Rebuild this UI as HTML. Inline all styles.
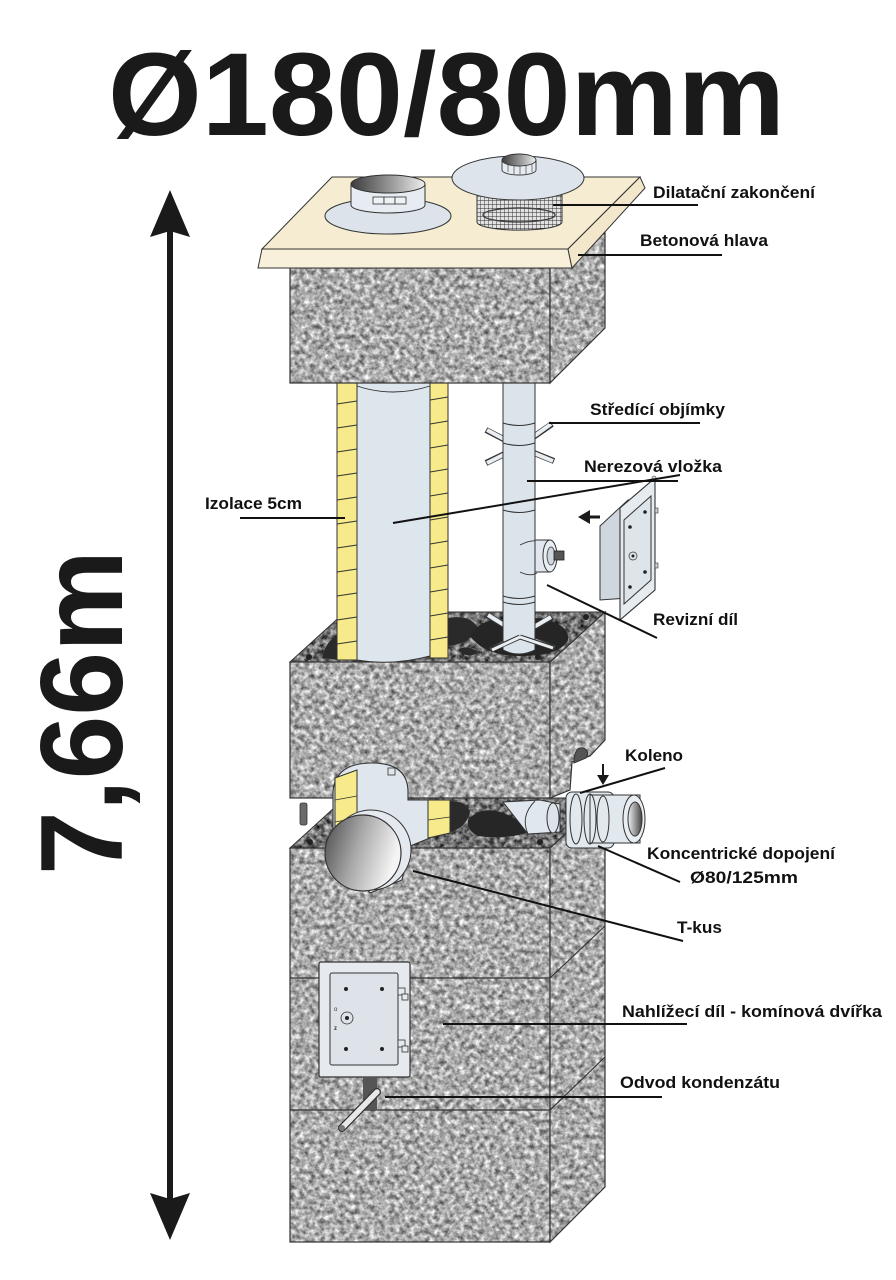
<!DOCTYPE html>
<html><head><meta charset="utf-8">
<style>html,body{margin:0;padding:0;background:#fff}svg{display:block}</style>
</head>
<body>
<svg width="896" height="1280" viewBox="0 0 896 1280" xmlns="http://www.w3.org/2000/svg">
<defs>
  <filter id="tex" filterUnits="userSpaceOnUse" x="0" y="0" width="896" height="1280" color-interpolation-filters="sRGB">
    <feTurbulence type="fractalNoise" baseFrequency="0.2" numOctaves="3" seed="7" result="n"/>
    <feColorMatrix in="n" type="matrix" values="1.0 0 0 0 0.17  1.0 0 0 0 0.17  1.0 0 0 0 0.17  0 0 0 0 1"/>
    <feComposite in2="SourceAlpha" operator="in"/>
  </filter>
  <filter id="texDark" filterUnits="userSpaceOnUse" x="0" y="0" width="896" height="1280" color-interpolation-filters="sRGB">
    <feTurbulence type="fractalNoise" baseFrequency="0.2" numOctaves="3" seed="11" result="n"/>
    <feColorMatrix in="n" type="matrix" values="1.1 0 0 0 -0.1  1.1 0 0 0 -0.1  1.1 0 0 0 -0.1  0 0 0 0 1"/>
    <feComposite in2="SourceAlpha" operator="in"/>
  </filter>
  <linearGradient id="gCap" x1="0" y1="0" x2="1" y2="0">
    <stop offset="0" stop-color="#3c3c3c"/><stop offset="0.55" stop-color="#9a9a9a"/><stop offset="1" stop-color="#efefef"/>
  </linearGradient>
  <linearGradient id="gDisc" x1="0" y1="0" x2="1" y2="0.3">
    <stop offset="0" stop-color="#4a4a4a"/><stop offset="0.5" stop-color="#a8a8a8"/><stop offset="1" stop-color="#f4f4f4"/>
  </linearGradient>
  <linearGradient id="gHole" x1="0" y1="0" x2="1" y2="0">
    <stop offset="0" stop-color="#f0f0f0"/><stop offset="1" stop-color="#444"/>
  </linearGradient>
  <pattern id="mesh" width="4" height="4" patternUnits="userSpaceOnUse">
    <rect width="4" height="4" fill="#e2e2e2"/>
    <path d="M0 0H4M0 0V4" stroke="#2a2a2a" stroke-width="0.9"/>
  </pattern>
</defs>
<rect width="896" height="1280" fill="#fff"/>

<!-- Title -->
<text x="108" y="135" font-family="Liberation Sans, sans-serif" font-weight="bold" font-size="118" textLength="677" lengthAdjust="spacingAndGlyphs" fill="#1a1a1a">Ø180/80mm</text>

<!-- Vertical dimension -->
<text transform="translate(122,875) rotate(-90)" font-family="Liberation Sans, sans-serif" font-weight="bold" font-size="117" textLength="325" lengthAdjust="spacingAndGlyphs" fill="#1a1a1a">7,66m</text>
<line x1="170" y1="228" x2="170" y2="1202" stroke="#1a1a1a" stroke-width="6"/>
<path d="M170 190 L190 237 L170 231 L150 237 Z" fill="#1a1a1a"/>
<path d="M170 1240 L190 1193 L170 1199 L150 1193 Z" fill="#1a1a1a"/>

<!-- ===== Lower block ===== -->
<g>
  <polygon points="290,848 345,798 605,798 550,848" fill="#000" filter="url(#texDark)"/>
  <polygon points="290,848 345,798 605,798 550,848" fill="none" stroke="#333" stroke-width="1"/>
  <rect x="290" y="848" width="260" height="394" fill="#000" filter="url(#tex)"/>
  <rect x="290" y="848" width="260" height="394" fill="none" stroke="#333" stroke-width="1.2"/>
  <polygon points="550,848 605,798 605,1187 550,1242" fill="#000" filter="url(#tex)"/>
  <polygon points="550,848 605,798 605,1187 550,1242" fill="none" stroke="#333" stroke-width="1.2"/>
  <polyline points="290,978 550,978 605,926" fill="none" stroke="#333" stroke-width="1.2"/>
  <polyline points="290,1110 550,1110 605,1057" fill="none" stroke="#333" stroke-width="1.2"/>
  <circle cx="310" cy="842" r="3" fill="#222"/>
  <circle cx="540" cy="842" r="3" fill="#222"/>
</g>

<!-- ===== Middle block ===== -->
<g>
  <polygon points="290,662 345,612 605,612 550,662" fill="#000" filter="url(#texDark)"/>
  <polygon points="290,662 345,612 605,612 550,662" fill="none" stroke="#333" stroke-width="1"/>
  <rect x="290" y="662" width="260" height="136" fill="#000" filter="url(#tex)"/>
  <rect x="290" y="662" width="260" height="136" fill="none" stroke="#333" stroke-width="1.2"/>
  <polygon points="550,662 605,612 605,740 590,756 572,762 570,790 550,798" fill="#000" filter="url(#tex)"/>
  <polygon points="550,662 605,612 605,740 590,756 572,762 570,790 550,798" fill="none" stroke="#333" stroke-width="1.2"/>
  <path d="M574,763 Q574,746 584,748 Q590,752 586,758 Z" fill="#555" stroke="#333" stroke-width="1"/>
  <path d="M322,658 Q326,640 338,636 L340,660 Z" fill="#2a2a2a"/>
  <path d="M448,618 Q470,614 478,628 Q470,644 448,646 Z" fill="#2a2a2a"/>
  <path d="M470,636 Q480,618 505,620 L540,618 Q570,624 568,640 Q560,656 520,656 Q485,656 470,636 Z" fill="#252525"/>
  <path d="M458,650 Q466,644 478,652 Q468,660 458,650 Z" fill="#2a2a2a"/>
  <circle cx="309" cy="657" r="3" fill="#222"/>
  <circle cx="538" cy="657" r="3" fill="#222"/>
  <circle cx="586" cy="617" r="3" fill="#222"/>
  <circle cx="357" cy="617" r="3" fill="#222"/>
</g>

<!-- ===== Pipes between blocks ===== -->
<g stroke-linecap="butt">
  <g stroke="#333" stroke-width="6">
    <line x1="519" y1="447" x2="486" y2="430"/><line x1="519" y1="447" x2="552" y2="424"/>
    <line x1="519" y1="447" x2="486" y2="463"/><line x1="519" y1="447" x2="554" y2="461"/>
    <line x1="520" y1="635" x2="487" y2="615"/><line x1="520" y1="635" x2="552" y2="617"/>
    <line x1="520" y1="635" x2="490" y2="650"/><line x1="520" y1="635" x2="555" y2="648"/>
  </g>
  <g stroke="#e9eef2" stroke-width="4">
    <line x1="519" y1="447" x2="487" y2="430"/><line x1="519" y1="447" x2="551" y2="424"/>
    <line x1="519" y1="447" x2="487" y2="463"/><line x1="519" y1="447" x2="553" y2="461"/>
    <line x1="520" y1="635" x2="488" y2="615"/><line x1="520" y1="635" x2="551" y2="617"/>
    <line x1="520" y1="635" x2="491" y2="650"/><line x1="520" y1="635" x2="554" y2="648"/>
  </g>
</g>
<path d="M503,383 L503,650 Q519,658 535,650 L535,383 Z" fill="#dbe3eb" stroke="#333" stroke-width="1"/>
<path d="M503,423 Q519,428 535,423 M503,443 Q519,448 535,443 M503,510 Q519,515 535,510 M503,596 Q519,601 535,596 M503,602 Q519,607 535,602" fill="none" stroke="#333" stroke-width="1"/>
<g stroke="#333" stroke-width="5"><line x1="520" y1="637" x2="491" y2="650"/><line x1="520" y1="637" x2="554" y2="648"/></g>
<g stroke="#e9eef2" stroke-width="3"><line x1="520" y1="637" x2="492" y2="650"/><line x1="520" y1="637" x2="553" y2="648"/></g>
<path d="M520,545 Q530,540 537,541 M520,572 Q530,577 537,573" fill="none" stroke="#333" stroke-width="0.9"/>
<path d="M535,540 L550,540 L550,572 L535,572 Z" fill="#e1e7ed" stroke="#333" stroke-width="1"/>
<ellipse cx="550" cy="556" rx="7" ry="16" fill="#e8edf1" stroke="#333" stroke-width="1"/>
<ellipse cx="551" cy="556" rx="4" ry="9" fill="#cfd6dd" stroke="#333" stroke-width="0.8"/>
<rect x="554" y="551" width="10" height="9" fill="#555" stroke="#222" stroke-width="0.8"/>

<rect x="337" y="383" width="20" height="277" fill="#f6ea8a" stroke="#333" stroke-width="1"/>
<rect x="430" y="383" width="18" height="275" fill="#f6ea8a" stroke="#333" stroke-width="1"/>
<path d="M357,383 L357,660 Q393,666 430,656 L430,383 Z" fill="#dde5ed" stroke="#333" stroke-width="1"/>
<path d="M357,386 Q393,398 430,386" fill="none" stroke="#333" stroke-width="0.9"/>
<g stroke="#333" stroke-width="0.9">
  <line x1="337" y1="404" x2="357" y2="401"/><line x1="337" y1="428" x2="357" y2="425"/>
  <line x1="337" y1="452" x2="357" y2="449"/><line x1="337" y1="476" x2="357" y2="473"/>
  <line x1="337" y1="500" x2="357" y2="497"/><line x1="337" y1="524" x2="357" y2="521"/>
  <line x1="337" y1="548" x2="357" y2="545"/><line x1="337" y1="572" x2="357" y2="569"/>
  <line x1="337" y1="596" x2="357" y2="593"/><line x1="337" y1="620" x2="357" y2="617"/>
  <line x1="337" y1="644" x2="357" y2="641"/>
  <line x1="430" y1="400" x2="448" y2="397"/><line x1="430" y1="424" x2="448" y2="421"/>
  <line x1="430" y1="448" x2="448" y2="445"/><line x1="430" y1="472" x2="448" y2="469"/>
  <line x1="430" y1="496" x2="448" y2="493"/><line x1="430" y1="520" x2="448" y2="517"/>
  <line x1="430" y1="544" x2="448" y2="541"/><line x1="430" y1="568" x2="448" y2="565"/>
  <line x1="430" y1="592" x2="448" y2="589"/><line x1="430" y1="616" x2="448" y2="613"/>
  <line x1="430" y1="640" x2="448" y2="637"/>
</g>

<!-- ===== Gap content ===== -->
<path d="M333,812 Q336,800 342,798 L340,828 Z" fill="#2a2a2a"/>
<path d="M450,802 Q466,800 470,812 Q466,828 450,832 Z" fill="#2a2a2a"/>
<path d="M468,820 Q480,806 500,812 Q520,818 530,832 Q505,840 478,836 Q466,830 468,820 Z" fill="#262626"/>
<rect x="300" y="803" width="7" height="22" rx="2" fill="#6a6a6a" stroke="#333" stroke-width="0.8"/>
<path d="M333,848 L333,792 Q335,763 372,763 Q408,763 408,792 L408,800 L430,800 L430,838 L410,846 L402,880 L370,893 Z" fill="#dfe6ee" stroke="#333" stroke-width="1.1"/>
<polygon points="335,778 357,770 357,828 335,842" fill="#f6ea8a" stroke="#333" stroke-width="1"/>
<line x1="335" y1="800" x2="357" y2="796" stroke="#333" stroke-width="0.8"/>
<line x1="335" y1="822" x2="357" y2="818" stroke="#333" stroke-width="0.8"/>
<polygon points="428,800 450,800 450,833 428,838" fill="#f6ea8a" stroke="#333" stroke-width="1"/>
<line x1="428" y1="820" x2="450" y2="817" stroke="#333" stroke-width="0.8"/>
<rect x="388" y="768" width="7" height="7" fill="#dfe6ee" stroke="#333" stroke-width="0.8"/>
<circle cx="371" cy="850" r="40" fill="#e3e9ef" stroke="#333" stroke-width="1"/>
<circle cx="363" cy="853" r="38" fill="url(#gDisc)" stroke="#333" stroke-width="1.2"/>
<path d="M503,802 L540,800 L560,804 L560,832 L528,834 Z" fill="#e0e7ee" stroke="#333" stroke-width="1"/>
<path d="M528,834 Q520,816 535,801" fill="none" stroke="#333" stroke-width="0.9"/>
<ellipse cx="553" cy="818" rx="6" ry="15" fill="#dce3ea" stroke="#333" stroke-width="1"/>
<rect x="566" y="792" width="48" height="56" rx="6" fill="#e1e8ee" stroke="#333" stroke-width="1"/>
<rect x="590" y="795" width="50" height="48" fill="#e1e8ee" stroke="#333" stroke-width="1"/>
<ellipse cx="576" cy="819" rx="6" ry="25" fill="none" stroke="#333" stroke-width="1"/>
<ellipse cx="590" cy="819" rx="6" ry="25" fill="none" stroke="#333" stroke-width="1"/>
<ellipse cx="603" cy="819" rx="6" ry="23" fill="none" stroke="#333" stroke-width="1"/>
<ellipse cx="634" cy="819" rx="11" ry="24" fill="#e8edf2" stroke="#333" stroke-width="1"/>
<ellipse cx="635" cy="819" rx="7" ry="17" fill="url(#gHole)" stroke="#333" stroke-width="1"/>
<line x1="603" y1="764" x2="603" y2="776" stroke="#1a1a1a" stroke-width="2"/>
<polygon points="597,775 609,775 603,785" fill="#1a1a1a"/>

<!-- ===== Door ===== -->
<rect x="319" y="962" width="91" height="115" rx="2" fill="#e6eaee" stroke="#333" stroke-width="1.2"/>
<rect x="330" y="973" width="68" height="92" rx="2" fill="#dde3e9" stroke="#333" stroke-width="1"/>
<rect x="398" y="988" width="7" height="7" fill="#e6eaee" stroke="#333" stroke-width="0.8"/>
<rect x="402" y="994" width="6" height="6" fill="#e6eaee" stroke="#333" stroke-width="0.8"/>
<rect x="398" y="1040" width="7" height="7" fill="#e6eaee" stroke="#333" stroke-width="0.8"/>
<rect x="402" y="1046" width="6" height="6" fill="#e6eaee" stroke="#333" stroke-width="0.8"/>
<circle cx="346" cy="989" r="2" fill="#222"/><circle cx="382" cy="989" r="2" fill="#222"/>
<circle cx="346" cy="1049" r="2" fill="#222"/><circle cx="382" cy="1049" r="2" fill="#222"/>
<circle cx="347" cy="1018" r="6" fill="none" stroke="#333" stroke-width="0.8"/>
<circle cx="347" cy="1018" r="2" fill="#222"/>
<text x="334" y="1011" font-family="Liberation Sans, sans-serif" font-size="6" fill="#333">o</text>
<text x="334" y="1030" font-family="Liberation Sans, sans-serif" font-weight="bold" font-size="6" fill="#333">z</text>
<rect x="363" y="1077" width="14" height="33" fill="#555"/>
<line x1="377" y1="1092" x2="342" y2="1128" stroke="#333" stroke-width="8" stroke-linecap="round"/>
<line x1="377" y1="1092" x2="342" y2="1128" stroke="#e8e8e8" stroke-width="5.5" stroke-linecap="round"/>
<circle cx="342" cy="1128" r="3" fill="#777"/>

<!-- ===== Revision panel ===== -->
<polygon points="600,526 628,500 628,598 600,600" fill="#cfd6de" stroke="#333" stroke-width="1"/>
<polygon points="620,508 655,478 655,590 620,620" fill="#e6ebef" stroke="#333" stroke-width="1.1"/>
<polygon points="624,520 651,496 651,580 624,604" fill="#dde4ea" stroke="#333" stroke-width="1"/>
<circle cx="645" cy="512" r="1.8" fill="#222"/><circle cx="630" cy="527" r="1.8" fill="#222"/>
<circle cx="645" cy="572" r="1.8" fill="#222"/><circle cx="630" cy="587" r="1.8" fill="#222"/>
<circle cx="633" cy="556" r="4" fill="none" stroke="#333" stroke-width="0.7"/><circle cx="633" cy="556" r="1.5" fill="#222"/>
<rect x="655" y="508" width="3" height="5" fill="#ccc" stroke="#333" stroke-width="0.6"/>
<rect x="655" y="563" width="3" height="5" fill="#ccc" stroke="#333" stroke-width="0.6"/>
<circle cx="654" cy="478" r="2" fill="#ddd" stroke="#333" stroke-width="0.6"/>
<line x1="588" y1="517" x2="600" y2="517" stroke="#1a1a1a" stroke-width="3"/>
<polygon points="578,517 590,510 590,524" fill="#1a1a1a"/>

<!-- ===== Top block ===== -->
<rect x="290" y="268" width="260" height="115" fill="#000" filter="url(#tex)"/>
<rect x="290" y="268" width="260" height="115" fill="none" stroke="#333" stroke-width="1.2"/>
<polygon points="550,268 605,233 605,328 550,383" fill="#000" filter="url(#tex)"/>
<polygon points="550,268 605,233 605,328 550,383" fill="none" stroke="#333" stroke-width="1.2"/>

<!-- ===== Slab ===== -->
<polygon points="332,177 640,177 568,249 262,249" fill="#f6ecd2" stroke="#333" stroke-width="1"/>
<polygon points="262,249 568,249 572,268 258,268" fill="#f8f0da" stroke="#333" stroke-width="1"/>
<polygon points="568,249 640,177 645,188 572,268" fill="#f2e7ca" stroke="#333" stroke-width="1"/>

<ellipse cx="388" cy="216" rx="63" ry="18" fill="#dce3eb" stroke="#333" stroke-width="1"/>
<path d="M351,184 L351,205 A37,8 0 0 0 425,205 L425,184 Z" fill="#e6ecf1" stroke="#333" stroke-width="1"/>
<rect x="373" y="197" width="11" height="7" fill="#eef2f5" stroke="#333" stroke-width="0.8"/>
<rect x="384" y="197" width="11" height="7" fill="#eef2f5" stroke="#333" stroke-width="0.8"/>
<rect x="395" y="197" width="11" height="7" fill="#eef2f5" stroke="#333" stroke-width="0.8"/>
<ellipse cx="388" cy="184" rx="37" ry="9" fill="url(#gCap)" stroke="#333" stroke-width="1"/>

<path d="M477,195 L477,222 A42,8 0 0 0 562,222 L562,195 Z" fill="url(#mesh)" stroke="#333" stroke-width="1"/>
<ellipse cx="519" cy="215" rx="36" ry="7" fill="none" stroke="#444" stroke-width="1.5"/>
<ellipse cx="518" cy="178" rx="66" ry="22" fill="#dde4ec" stroke="#333" stroke-width="1"/>
<path d="M502,160 L502,170 A17,5 0 0 0 536,170 L536,160 Z" fill="#e5ebf0" stroke="#333" stroke-width="0.9"/>
<g stroke="#333" stroke-width="0.6"><line x1="508" y1="164" x2="508" y2="172"/><line x1="514" y1="165" x2="514" y2="174"/><line x1="520" y1="165" x2="520" y2="174"/><line x1="526" y1="165" x2="526" y2="174"/><line x1="532" y1="164" x2="532" y2="172"/></g>
<ellipse cx="519" cy="160" rx="17" ry="6" fill="url(#gCap)" stroke="#333" stroke-width="0.9"/>

<!-- ===== Leader lines ===== -->
<g stroke="#111" stroke-width="2" fill="none">
  <line x1="553" y1="205" x2="698" y2="205"/>
  <line x1="578" y1="255" x2="722" y2="255"/>
  <line x1="549" y1="423" x2="700" y2="423"/>
  <line x1="527" y1="481" x2="678" y2="481"/>
  <line x1="393" y1="523" x2="680" y2="475"/>
  <line x1="240" y1="518" x2="345" y2="518"/>
  <line x1="547" y1="585" x2="657" y2="638"/>
  <line x1="580" y1="793" x2="665" y2="768"/>
  <line x1="598" y1="846" x2="680" y2="882"/>
  <line x1="413" y1="871" x2="683" y2="941"/>
  <line x1="443" y1="1024" x2="687" y2="1024"/>
  <line x1="385" y1="1097" x2="662" y2="1097"/>
</g>

<!-- ===== Labels ===== -->
<g font-family="Liberation Sans, sans-serif" font-weight="bold" font-size="17" fill="#111">
  <text x="653" y="198" textLength="162" lengthAdjust="spacingAndGlyphs">Dilatační zakončení</text>
  <text x="640" y="246" textLength="128" lengthAdjust="spacingAndGlyphs">Betonová hlava</text>
  <text x="590" y="415" textLength="135" lengthAdjust="spacingAndGlyphs">Středící objímky</text>
  <text x="584" y="472" textLength="138" lengthAdjust="spacingAndGlyphs">Nerezová vložka</text>
  <text x="205" y="509" textLength="97" lengthAdjust="spacingAndGlyphs">Izolace 5cm</text>
  <text x="653" y="625" textLength="85" lengthAdjust="spacingAndGlyphs">Revizní díl</text>
  <text x="625" y="761" textLength="58" lengthAdjust="spacingAndGlyphs">Koleno</text>
  <text x="647" y="859" textLength="188" lengthAdjust="spacingAndGlyphs">Koncentrické dopojení</text>
  <text x="690" y="883" textLength="108" lengthAdjust="spacingAndGlyphs">Ø80/125mm</text>
  <text x="677" y="933" textLength="45" lengthAdjust="spacingAndGlyphs">T-kus</text>
  <text x="622" y="1017" textLength="260" lengthAdjust="spacingAndGlyphs">Nahlížecí díl - komínová dvířka</text>
  <text x="620" y="1088" textLength="160" lengthAdjust="spacingAndGlyphs">Odvod kondenzátu</text>
</g>
</svg>
</body></html>
